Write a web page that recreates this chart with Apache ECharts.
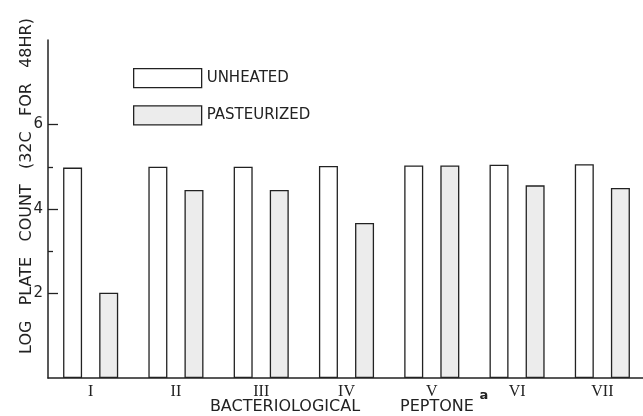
<!DOCTYPE html>
<html>
<head>
<meta charset="utf-8">
<script src="https://cdn.jsdelivr.net/npm/echarts@6/dist/echarts.min.js"></script>
<style>
  html, body { margin: 0; padding: 0; background: #fff; }
  #main { width: 643px; height: 416px; }
</style>
</head>
<body>
<div id="main"></div>
<script>
// peptone samples on the x axis
const categories = ['I', 'II', 'III', 'IV', 'V', 'VI', 'VII'];
// log plate count
const unheated = [4.98, 5.0, 5.0, 5.02, 5.03, 5.05, 5.06];
const pasteurized = [2.02, 4.45, 4.45, 3.67, 5.03, 4.56, 4.5];
const majorTicks = [2, 4, 6];
const minorTicks = [3, 5];

const ink = '#222';
const sans = 'DejaVu Sans';

const chart = echarts.init(document.getElementById('main'));

const option = {
  animation: false,
  backgroundColor: '#fff',
  grid: { left: 48, top: 40, bottom: 38, width: 597, outerBoundsMode: 'none' },
  legend: {
    orient: 'vertical',
    left: 128,
    top: 63,
    itemWidth: 68,
    itemHeight: 19,
    itemGap: 17,
    icon: 'rect',
    textStyle: { fontFamily: sans, fontSize: 15, color: ink },
    data: [
      { name: 'UNHEATED', itemStyle: { color: '#fff', borderColor: ink, borderWidth: 1.3 } },
      { name: 'PASTEURIZED', itemStyle: { color: '#ececec', borderColor: ink, borderWidth: 1.3 } }
    ]
  },
  xAxis: {
    type: 'category',
    data: categories,
    axisLine: { lineStyle: { color: ink, width: 1.5 } },
    axisTick: { show: false },
    axisLabel: { fontFamily: 'Liberation Serif', fontSize: 16, color: ink, margin: 6 }
  },
  yAxis: [
    {
      type: 'value',
      min: 0,
      max: 8,
      interval: 1,
      splitLine: { show: false },
      axisLine: { show: true, lineStyle: { color: ink, width: 1.5 } },
      axisTick: { show: true, inside: true, length: 10, customValues: majorTicks, lineStyle: { color: ink, width: 1.3 } },
      axisLabel: { customValues: majorTicks, fontFamily: sans, fontSize: 15, color: ink, margin: 5 }
    },
    {
      type: 'value',
      position: 'left',
      min: 0,
      max: 8,
      interval: 1,
      splitLine: { show: false },
      axisLine: { show: false },
      axisTick: { show: true, inside: true, length: 5, customValues: minorTicks, lineStyle: { color: ink, width: 1.3 } },
      axisLabel: { show: false }
    }
  ],
  series: [
    {
      name: 'UNHEATED',
      type: 'bar',
      data: unheated,
      barWidth: 19,
      barGap: '90%',
      itemStyle: { color: '#fff', borderColor: ink, borderWidth: 1.3 }
    },
    {
      name: 'PASTEURIZED',
      type: 'bar',
      data: pasteurized,
      barWidth: 19,
      itemStyle: { color: '#ececec', borderColor: ink, borderWidth: 1.3 }
    }
  ],
  graphic: [
    {
      type: 'text',
      x: 27,
      y: 186,
      rotation: Math.PI / 2,
      style: {
        text: 'LOG   PLATE   COUNT   (32C   FOR   48HR)',
        font: '16px "DejaVu Sans"',
        fill: ink,
        textAlign: 'center',
        textVerticalAlign: 'middle'
      }
    },
    {
      type: 'text',
      x: 285,
      y: 407,
      style: {
        text: 'BACTERIOLOGICAL',
        font: '16px "DejaVu Sans"',
        fill: ink,
        textAlign: 'center',
        textVerticalAlign: 'middle'
      }
    },
    {
      type: 'text',
      x: 437,
      y: 407,
      style: {
        text: 'PEPTONE',
        font: '16px "DejaVu Sans"',
        fill: ink,
        textAlign: 'center',
        textVerticalAlign: 'middle'
      }
    },
    {
      type: 'text',
      x: 484,
      y: 396,
      style: {
        text: 'a',
        font: 'bold 13px "DejaVu Sans"',
        fill: ink,
        textAlign: 'center',
        textVerticalAlign: 'middle'
      }
    }
  ]
};

chart.setOption(option);
</script>
</body>
</html>
